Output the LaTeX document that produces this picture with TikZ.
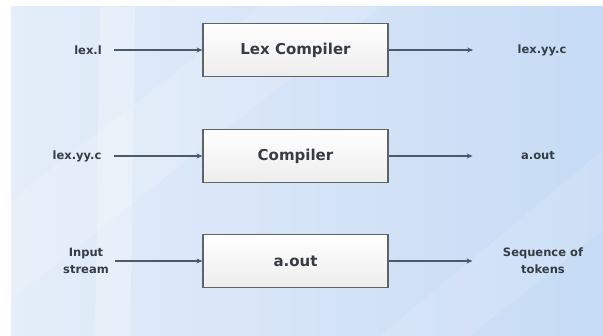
\documentclass[tikz,border=0pt]{standalone}
\usepackage{fontspec}
\setmainfont{DejaVu Sans}
\usetikzlibrary{arrows.meta,shadows}
\definecolor{bgtop}{HTML}{E4EDF9}
\definecolor{bgbot}{HTML}{C6DBF5}
\definecolor{txt}{HTML}{363C44}
\definecolor{edge}{HTML}{606366}
\definecolor{arrowc}{HTML}{4B5A6B}
\begin{document}
\begin{tikzpicture}[x=1pt,y=-1pt,
				stage/.style={rectangle,draw=edge,line width=1.2pt,top color=white,bottom color=black!7,
					minimum width=185pt,minimum height=53pt,text=txt,
					font=\bfseries\fontsize{15}{18}\selectfont,
					drop shadow={shadow xshift=1pt,shadow yshift=-1pt,opacity=.2}},
				lbl/.style={text=txt,align=center,font=\bfseries\fontsize{11.5}{17}\selectfont},
				arr/.style={draw=arrowc,line width=1.2pt,-{Stealth[length=6pt,width=5pt]}}]
\useasboundingbox (0,0) rectangle (603,336);
% background
\shade[left color=bgtop,right color=bgbot] (11,7) rectangle (603,336);
\fill[white,opacity=.25] (100,7) -- (135,7) -- (130,336) -- (95,336) -- cycle;
\fill[white,opacity=.15] (11,200) -- (260,7) -- (380,7) -- (11,300) -- cycle;
\fill[white,opacity=.12] (380,336) -- (603,150) -- (603,230) -- (470,336) -- cycle;
% stages
\node[stage] (lexc) at (295.5,50) {Lex Compiler};
\node[stage] (cc) at (295.5,156) {Compiler};
\node[stage] (aout) at (295.5,261) {a.out};
% inputs
\node[lbl] (lexl) at (88,50) {lex.l};
\node[lbl] (src) at (77,156) {lex.yy.c};
\node[lbl] (input) at (86,261) {Input\\stream};
% outputs
\node[lbl] (gen) at (542,50) {lex.yy.c};
\node[lbl] (exe) at (538,156) {a.out};
\node[lbl] (tokens) at (543,261) {Sequence of\\tokens};
% arrows
\draw[arr,shorten <=9pt] (lexl) -- (lexc);
\draw[arr,shorten <=9pt] (src) -- (cc);
\draw[arr,shorten <=3pt] (input) -- (aout);
\draw[arr,shorten >=41pt] (lexc) -- (gen);
\draw[arr,shorten >=45pt] (cc) -- (exe);
\draw[arr,shorten >=27pt] (aout) -- (tokens);
\end{tikzpicture}
\end{document}
